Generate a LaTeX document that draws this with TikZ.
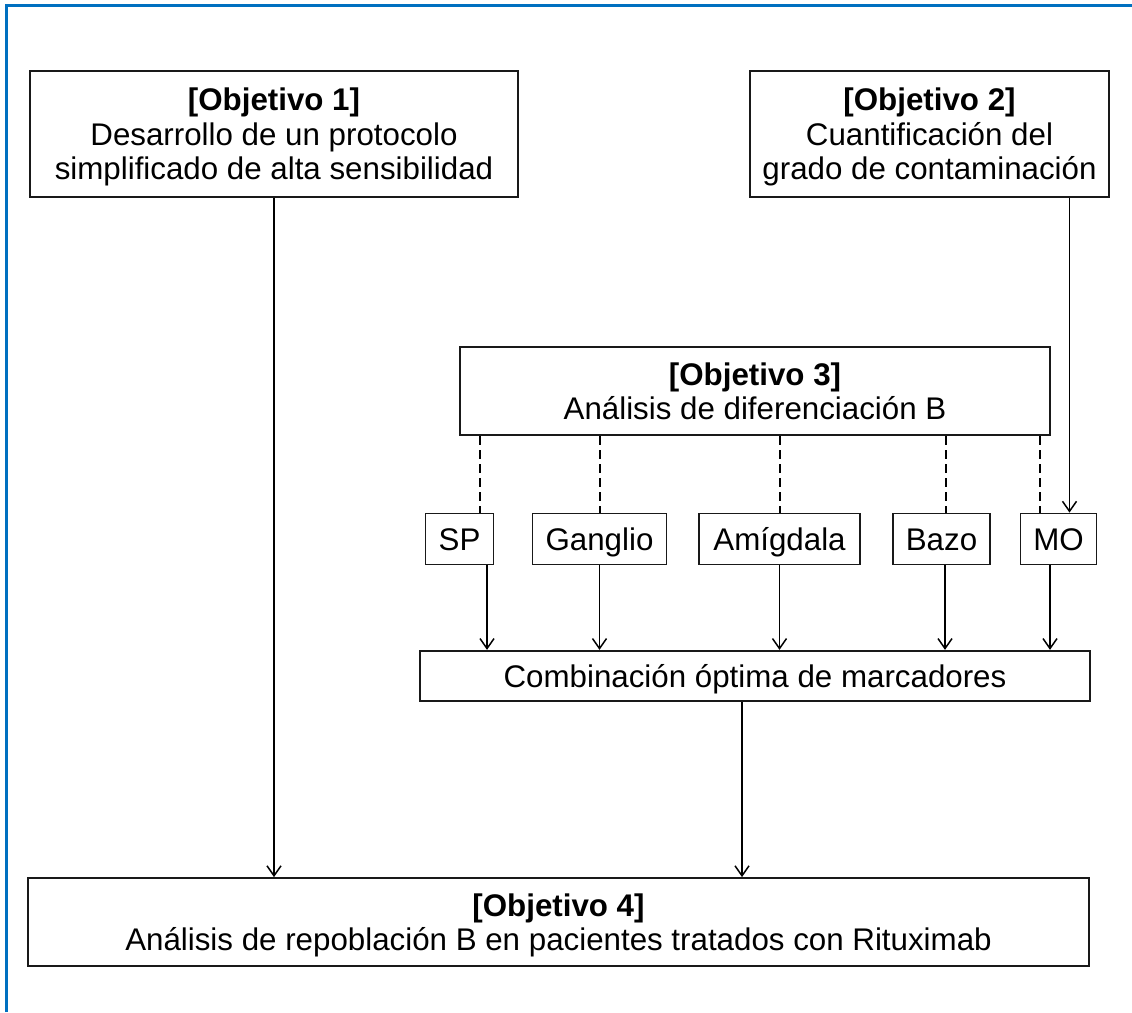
\documentclass[tikz,border=0pt]{standalone}
\usepackage{fontspec}
\setmainfont{Liberation Sans}
\usetikzlibrary{arrows.meta}
\definecolor{frameblue}{RGB}{0,112,192}
\begin{document}
\begin{tikzpicture}[x=1pt,y=-1pt,
  box/.style={draw=black!90,line width=1.8pt,align=center,inner sep=0pt,
    text depth=0pt,font=\fontsize{31.3}{34.5}\selectfont},
  oneline/.style={box,text height=22.4pt,text depth=0pt},
  arr/.style={line width=1.5pt,-{Straight Barb[length=10pt,width=14pt,line width=1.5pt]}},
  dashline/.style={line width=2pt,dash pattern=on 9pt off 5pt}]
\useasboundingbox (0,0) rectangle (1132,1012);
% outer frame (top and left edges)
\draw[frameblue,line width=3pt] (6.5,1012) -- (6.5,5.5) -- (1132,5.5);

% objective boxes
\node[box,minimum width=488pt,minimum height=126pt] (obj1) at (274,134)
  {\textbf{[Objetivo 1]}\\Desarrollo de un protocolo\\simplificado de alta sensibilidad};
\node[box,minimum width=359pt,minimum height=126pt] (obj2) at (929.5,134)
  {\textbf{[Objetivo 2]}\\Cuantificación del\\grado de contaminación};
\node[box,minimum width=590pt,minimum height=88.5pt] (obj3) at (755,391)
  {\textbf{[Objetivo 3]}\\Análisis de diferenciación B};
\node[box,minimum width=1061pt,minimum height=88pt] (obj4) at (558.5,922)
  {\textbf{[Objetivo 4]}\\Análisis de repoblación B en pacientes tratados con Rituximab};

% tissue boxes
\node[oneline,minimum width=68pt,minimum height=51pt] (sp) at (459.5,539) {SP};
\node[oneline,minimum width=134pt,minimum height=51pt] (gan) at (599.5,539) {Ganglio};
\node[oneline,minimum width=161pt,minimum height=51pt] (ami) at (779.5,539) {Amígdala};
\node[oneline,minimum width=97pt,minimum height=51pt] (baz) at (941.5,539) {Bazo};
\node[oneline,minimum width=76pt,minimum height=51pt] (mo) at (1058.5,539) {MO};

% marker combination box
\node[oneline,minimum width=670pt,minimum height=50.5pt] (comb) at (755,676) {Combinación óptima de marcadores};

% dashed links from objective 3 to tissues
\draw[dashline] ([xshift=20pt]sp.north |- obj3.south) -- ([xshift=20pt]sp.north);
\draw[dashline] (gan.north |- obj3.south) -- (gan.north);
\draw[dashline] (ami.north |- obj3.south) -- (ami.north);
\draw[dashline] ([xshift=4pt]baz.north |- obj3.south) -- ([xshift=4pt]baz.north);
\draw[dashline] ([xshift=-18.5pt]mo.north |- obj3.south) -- ([xshift=-18.5pt]mo.north);

% tissues to marker combination
\draw[arr] ([xshift=27.5pt]sp.south) -- ([xshift=27.5pt]sp.south |- comb.north);
\draw[arr] (gan.south) -- (gan.south |- comb.north);
\draw[arr] (ami.south) -- (ami.south |- comb.north);
\draw[arr] ([xshift=3.5pt]baz.south) -- ([xshift=3.5pt]baz.south |- comb.north);
\draw[arr] ([xshift=-8.5pt]mo.south) -- ([xshift=-8.5pt]mo.south |- comb.north);

% objective 2 to bone marrow
\draw[arr] ([xshift=140pt]obj2.south) -- ([xshift=140pt]obj2.south |- mo.north);

% into objective 4
\draw[arr] (obj1.south) -- (obj1.south |- obj4.north);
\draw[arr] ([xshift=-13pt]comb.south) -- ([xshift=-13pt]comb.south |- obj4.north);
\end{tikzpicture}
\end{document}
